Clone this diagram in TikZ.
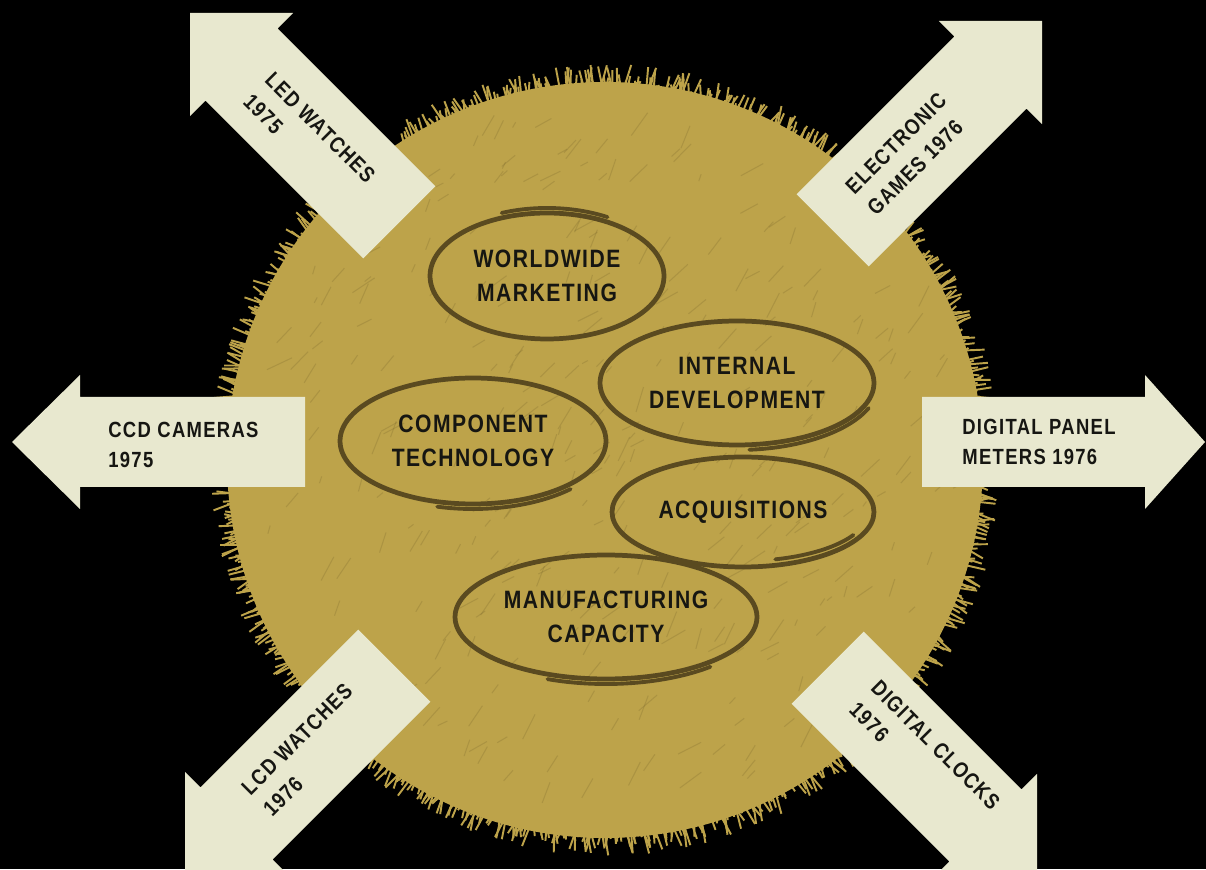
\documentclass[tikz,border=0pt]{standalone}
\usepackage{fontspec}
\setmainfont{Liberation Sans}[FakeStretch=0.84,LetterSpace=6]
\usetikzlibrary{shapes.geometric}

\definecolor{sunGold}{RGB}{189,163,74}
\definecolor{sunDark}{RGB}{110,92,38}
\definecolor{ringInk}{RGB}{90,74,32}
\definecolor{paper}{RGB}{232,232,207}
\definecolor{ink}{RGB}{22,22,18}

\tikzset{
  prodarrow/.style={fill=paper},
  arrowtext/.style={text=ink, font=\bfseries\fontsize{12.5}{17.5}\selectfont,
    align=left, inner sep=0pt, anchor=west},
  ring/.style={ellipse, draw=ringInk, line width=2.7pt, inner sep=0pt,
    text=ink, align=center, font=\bfseries\fontsize{14.3}{19.6}\selectfont},
  ringtail/.style={draw=ringInk, line width=2.2pt, line cap=round},
}

% tip, direction, head length, head half width, shaft half width, total length
\newcommand{\drawarrow}[6]{%
  \fill[prodarrow, shift={#1}, rotate=#2] (0,0) -- (-#3,#4) -- (-#3,#5)
    -- (-#6,#5) -- (-#6,-#5) -- (-#3,-#5) -- (-#3,-#4) -- cycle;}

\begin{document}
\begin{tikzpicture}[x=0.02cm, y=0.02cm]
  \fill[black] (0,0) rectangle (1206,869);
  \useasboundingbox (0,0) rectangle (1206,869);

  % the gold disc, with a ragged brushed rim
  \pgfmathsetseed{1976}
  \begin{scope}[shift={(605,409)}]
    \fill[sunGold] (0,0) circle (378);
    \foreach \a in {0,0.4,...,359.8}{
      \pgfmathsetmacro\len{376+20*rnd}
      \pgfmathsetmacro\b{\a+3*rnd-1.5}
      \draw[sunGold, line width=1.1pt] (\a:360) -- (\b:\len);
    }
    % brush streaks
    \foreach \i in {1,...,320}{
      \pgfmathsetmacro\r{350*sqrt(rnd)}
      \pgfmathsetmacro\t{360*rnd}
      \pgfmathsetmacro\d{25+50*rnd}
      \pgfmathsetmacro\l{6+22*rnd}
      \draw[sunDark, opacity=0.22, line width=0.6pt] (\t:\r) -- ++(\d:\l);
    }
  \end{scope}

  % product arrows
  \drawarrow{(190,856)}{135}{73}{73}{51}{296}
  \drawarrow{(1042,848)}{45}{73}{73}{51}{296}
  \drawarrow{(185,-6)}{225}{73}{73}{51}{296}
  \drawarrow{(1037,-8)}{315}{73}{73}{51}{296}
  \drawarrow{(12,427)}{180}{68}{67}{45}{293}
  \drawarrow{(1205,427)}{0}{60}{67}{45}{283}

  \node[arrowtext, rotate=-45] (led) at (258,782) {LED WATCHES\\1975};
  \node[arrowtext, rotate=45] (lcd) at (256,67) {LCD WATCHES\\1976};
  \node[arrowtext, rotate=45] (games) at (860,668) {ELECTRONIC\\GAMES 1976};
  \node[arrowtext, rotate=-45] (clocks) at (864,174) {DIGITAL CLOCKS\\1976};
  \node[arrowtext] (ccd) at (108,424) {CCD CAMERAS\\1975};
  \node[arrowtext] (panel) at (962,427) {DIGITAL PANEL\\METERS 1976};

  % strengths
  \node[ring, minimum width=4.68cm, minimum height=2.52cm] (market) at (547,593) {WORLDWIDE\\MARKETING};
  \node[ring, minimum width=5.48cm, minimum height=2.48cm] (internal) at (737,486) {INTERNAL\\DEVELOPMENT};
  \node[ring, minimum width=5.32cm, minimum height=2.52cm] (component) at (473,428) {COMPONENT\\TECHNOLOGY};
  \node[ring, minimum width=5.24cm, minimum height=2.2cm] (acquire) at (743,357) {ACQUISITIONS};
  \node[ring, minimum width=6.04cm, minimum height=2.48cm] (manufact) at (606,252) {MANUFACTURING\\CAPACITY};

  % loose pen strokes
  \draw[ringtail] (market.center) ++(60:121 and 68) arc[start angle=60, end angle=112, x radius=121, y radius=68];
  \draw[ringtail] (internal.center) ++(-85:142 and 67) arc[start angle=-85, end angle=-22, x radius=142, y radius=67];
  \draw[ringtail] (component.center) ++(-105:138 and 68) arc[start angle=-105, end angle=-45, x radius=138, y radius=68];
  \draw[ringtail] (acquire.center) ++(-75:125 and 49) arc[start angle=-75, end angle=-28, x radius=125, y radius=49];
  \draw[ringtail] (manufact.center) ++(-112:156 and 67) arc[start angle=-112, end angle=-48, x radius=156, y radius=67];
\end{tikzpicture}
\end{document}
